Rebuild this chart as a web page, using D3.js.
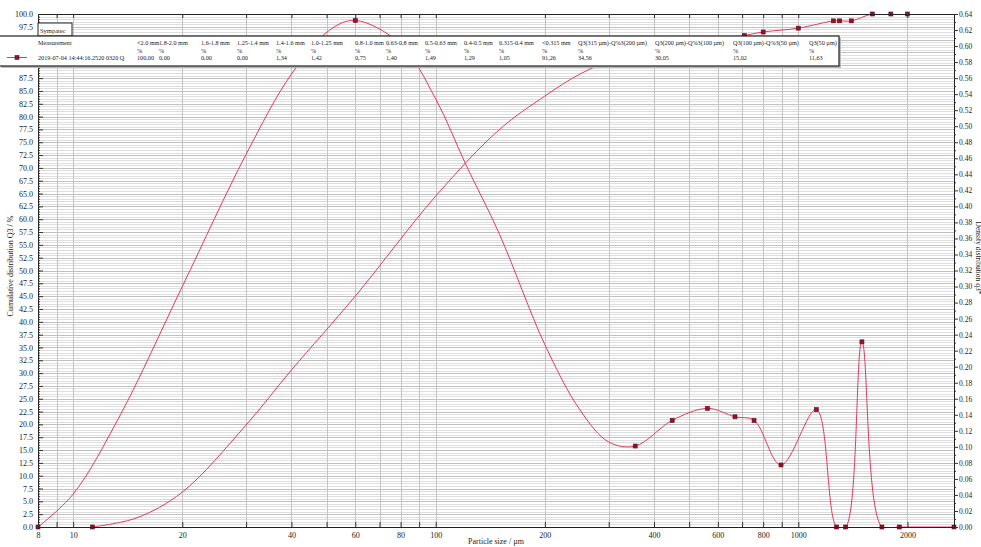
<!DOCTYPE html>
<html><head><meta charset="utf-8">
<script src="https://cdn.jsdelivr.net/npm/d3@7"></script>
<style>
body{margin:0;background:#fff}
svg{display:block}
text{font-family:"Liberation Serif","Times New Roman",serif;fill:#222}
</style>
</head><body>
<svg id="c" width="981" height="547"></svg>
<script>
// ---- data ----
const densSize   = [8, 10, 13.5, 20, 30, 40, 51, 60, 80, 100, 121, 150, 200, 250, 300, 355, 449, 562, 669, 755, 896, 1121, 1276, 1351, 1498, 1701, 1899, 2688];
const densValue  = [0, 0.041, 0.14, 0.30, 0.465, 0.565, 0.62, 0.632, 0.6025, 0.534, 0.4525, 0.365, 0.2275, 0.146, 0.106, 0.101, 0.133, 0.148, 0.1375, 0.133, 0.0774, 0.1465, 0, 0, 0.231, 0, 0, 0];
const densMarked = [1,0,0,0,0,0,0,1,0,0,0,0,0,0,0,1,1,1,1,1,1,1,1,1,1,1,1,1];

const cumSize   = [11.3, 15, 20, 30, 40, 60, 100, 150, 200, 250, 315, 400, 500, 630, 710, 800, 1000, 1250, 1300, 1400, 1600, 1800, 2000, 2688];
const cumValue  = [0, 1.8, 6.8, 19.9, 30.6, 45, 64.5, 77.5, 84, 88.3, 91.26, 92.31, 93.60, 95.09, 95.80, 96.49, 97.24, 98.66, 98.66, 98.66, 100, 100, 100, 100];
const cumMarked = [1,0,0,0,0,0,0,0,0,0,1,1,1,1,1,1,1,1,1,1,1,1,1,0];

const xTickValues = [8,9,10,20,30,40,50,60,70,80,90,100,200,300,400,500,600,700,800,900,1000,2000];
const xTickLabels = [8,10,20,40,60,80,100,200,400,600,800,1000,2000];

const legendHeaders = ["Measurement","<2.0 mm","1.8-2.0 mm","1.6-1.8 mm","1.25-1.4 mm","1.4-1.6 mm","1.0-1.25 mm","0.8-1.0 mm","0.63-0.8 mm","0.5-0.63 mm","0.4-0.5 mm","0.315-0.4 mm","<0.315 mm","Q3(315 µm)-Q%3(200 µm)","Q3(200 µm)-Q%3(100 µm)","Q3(100 µm)-Q%3(50 µm)","Q3(50 µm)"];
const legendUnits   = ["","%","%","%","%","%","%","%","%","%","%","%","%","%","%","%","%"];
const legendValues  = ["2019-07-04 14:44:16.2520 0320 Q","100,00","0,00","0,00","0,00","1,34","1,42","0,75","1,40","1,49","1,29","1,05","91,26","34,56","30,05","15,02","11,63"];

// ---- layout ----
const L = 38, R = 954, T = 14, B = 527;
const legendColX = [38,137,159,201,237,276,311,355,386,425,464,499,542,578,655,733,809];

const svg = d3.select("#c");
const x = d3.scaleLog().domain([8, 2688]).range([L, R]);
const yL = d3.scaleLinear().domain([0, 100]).range([B, T]);
const yR = d3.scaleLinear().domain([0, 0.64]).range([B, T]);

// grid
const grid = svg.append("g").attr("shape-rendering","crispEdges");
const minorY = d3.range(0, 100.001, 0.5);
grid.selectAll("line.hm").data(minorY).enter().append("line")
  .attr("x1", L).attr("x2", R)
  .attr("y1", d => Math.round(yL(d)) + 0.5).attr("y2", d => Math.round(yL(d)) + 0.5)
  .attr("stroke", d => (Math.abs(d/2.5 - Math.round(d/2.5)) < 1e-6) ? "#c0c0c0" : "#dedede");
grid.selectAll("line.v").data(xTickValues).enter().append("line")
  .attr("x1", d => Math.round(x(d)) + 0.5).attr("x2", d => Math.round(x(d)) + 0.5)
  .attr("y1", T).attr("y2", B).attr("stroke", "#c4c4c4");

// clip
svg.append("clipPath").attr("id","plotclip").append("rect")
  .attr("x", L).attr("y", T).attr("width", R - L).attr("height", B - T);

const densData = densSize.map((s,i) => ({s, v: densValue[i], m: densMarked[i]}));
const cumData  = cumSize.map((s,i) => ({s, v: cumValue[i], m: cumMarked[i]}));

const lineColor = "#e23a5e";
const curves = svg.append("g").attr("clip-path","url(#plotclip)");
curves.append("path").datum(cumData)
  .attr("fill","none").attr("stroke",lineColor).attr("stroke-width",1)
  .attr("d", d3.line().x(d => x(d.s)).y(d => yL(d.v)).curve(d3.curveCatmullRom.alpha(0.5)));
curves.append("path").datum(densData)
  .attr("fill","none").attr("stroke",lineColor).attr("stroke-width",1)
  .attr("d", d3.line().x(d => x(d.s)).y(d => yR(d.v)).curve(d3.curveCatmullRom.alpha(0.5)));

const mk = svg.append("g");
function markers(data, ys) {
  mk.selectAll(null).data(data.filter(d => d.m)).enter().append("rect")
    .attr("x", d => x(d.s) - 2).attr("y", d => ys(d.v) - 2)
    .attr("width", 4).attr("height", 4)
    .attr("fill", "#8e1530").attr("stroke", "#5a0c1c").attr("stroke-width", 0.6);
}
markers(cumData, yL);
markers(densData, yR);

// axes
const axFont = (size) => g => g.selectAll("text").attr("font-size", size).style("font-family", '"Liberation Serif",serif').attr("fill","#333");
svg.append("g").attr("transform", `translate(${L},0)`)
  .call(d3.axisLeft(yL).tickValues(d3.range(0, 100.001, 2.5)).tickFormat(d3.format(".1f")).tickSizeInner(-5).tickSizeOuter(0).tickPadding(5))
  .call(axFont(8));
svg.append("g").attr("transform", `translate(${L},0)`)
  .call(d3.axisLeft(yL).tickValues(minorY).tickFormat("").tickSizeInner(-2).tickSizeOuter(0))
  .call(g => g.select(".domain").remove());

svg.append("g").attr("transform", `translate(${R},0)`)
  .call(d3.axisRight(yR).tickValues(d3.range(0, 0.6401, 0.02)).tickFormat(d3.format(".2f")).tickSizeInner(4).tickSizeOuter(0).tickPadding(1))
  .call(axFont(7.5));
svg.append("g").attr("transform", `translate(${R},0)`)
  .call(d3.axisRight(yR).tickValues(d3.range(0.01, 0.64, 0.02)).tickFormat("").tickSizeInner(2).tickSizeOuter(0))
  .call(g => g.select(".domain").remove());

svg.append("g").attr("transform", `translate(0,${B})`)
  .call(d3.axisBottom(x).tickValues(xTickValues)
    .tickFormat(d => xTickLabels.includes(d) ? String(d) : "")
    .tickSizeInner(-5).tickSizeOuter(0).tickPadding(5))
  .call(axFont(8));
svg.append("g").attr("transform", `translate(0,${T})`)
  .call(d3.axisTop(x).tickValues(xTickValues).tickFormat("").tickSizeInner(-4).tickSizeOuter(0));

svg.selectAll(".domain").attr("stroke","#222");
svg.selectAll(".tick line").attr("stroke","#333");

// titles
svg.append("text").attr("x", 496).attr("y", 544).attr("text-anchor","middle")
  .attr("font-size", 8).text("Particle size / µm");
svg.append("text").attr("transform","translate(13,266) rotate(-90)").attr("text-anchor","middle")
  .attr("font-size", 8).text("Cumulative distribution Q3 / %");
svg.append("text").attr("transform","translate(975.5,258) rotate(90)").attr("text-anchor","middle")
  .attr("font-size", 7.5).text("Density distribution q3*");

// legend
const lg = svg.append("g");
lg.append("rect").attr("x", 38).attr("y", 23).attr("width", 34).attr("height", 13)
  .attr("fill","#fff").attr("stroke","#222").attr("stroke-width",1);
lg.append("text").attr("x", 40).attr("y", 32.5).attr("font-size", 6.5).text("Sympatec");
lg.append("rect").attr("x", 1).attr("y", 38).attr("width", 840).attr("height", 30).attr("fill","#bbb");
lg.append("rect").attr("x", -1).attr("y", 36).attr("width", 840).attr("height", 30)
  .attr("fill","#fff").attr("stroke","#222").attr("stroke-width",1.2);
legendHeaders.forEach((h,i) => {
  lg.append("text").attr("x", legendColX[i]).attr("y", 45).attr("font-size", 6.2).text(h);
  lg.append("text").attr("x", legendColX[i]).attr("y", 52.5).attr("font-size", 6.2).text(legendUnits[i]);
  lg.append("text").attr("x", legendColX[i]).attr("y", 60).attr("font-size", 6.2).text(legendValues[i]);
});
lg.append("line").attr("x1", 7).attr("x2", 27).attr("y1", 57.5).attr("y2", 57.5).attr("stroke", lineColor).attr("stroke-width",1);
lg.append("rect").attr("x", 15).attr("y", 55.5).attr("width", 4).attr("height", 4).attr("fill","#8e1530").attr("stroke","#5a0c1c").attr("stroke-width",0.6);
</script>
</body></html>
